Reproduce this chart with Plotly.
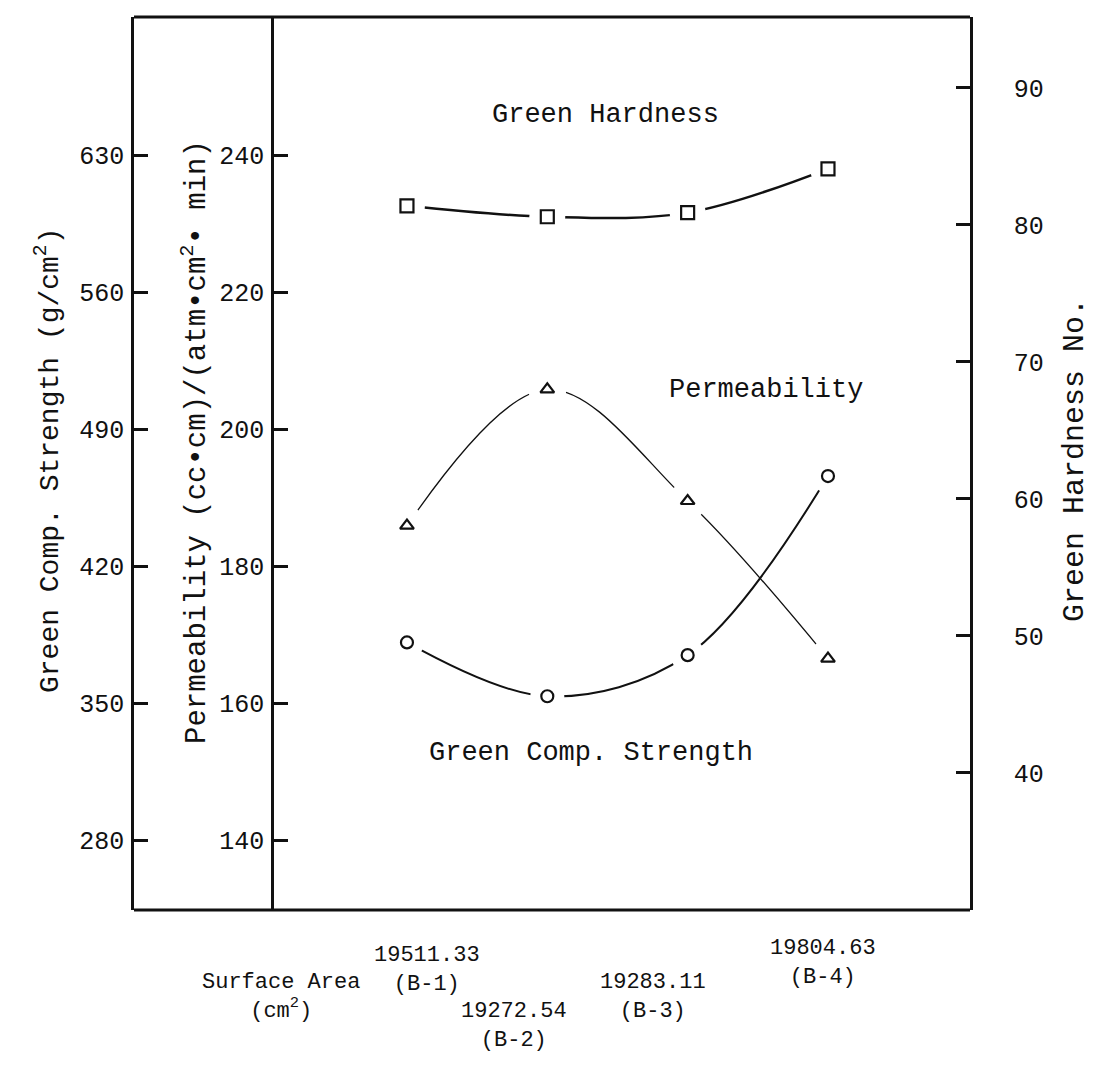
import plotly.graph_objects as go

# ---------------- data ----------------
samples = ["B-1", "B-2", "B-3", "B-4"]
surface_area = ["19511.33", "19272.54", "19283.11", "19804.63"]
x_pos = [1, 2, 3, 4]

green_hardness = [81.4, 80.6, 80.9, 84.1]          # right axis
permeability = [185.9, 205.8, 189.5, 166.5]        # inner left axis
green_comp_strength = [381.0, 353.5, 374.5, 466.0] # outer left axis

strength_ticks = [280, 350, 420, 490, 560, 630]
perm_ticks = [140, 160, 180, 200, 220, 240]
hard_ticks = [40, 50, 60, 70, 80, 90]

FONT = "Liberation Mono"
INK = "#111111"

fig = go.Figure()

def add_series(y, yaxis, symbol, lw, msize, halo):
    fig.add_trace(go.Scatter(x=x_pos, y=y, yaxis=yaxis, mode="lines",
                             line=dict(color=INK, width=lw, shape="spline"),
                             hoverinfo="skip", showlegend=False))
    # white halo to create the small gap between line and marker
    fig.add_trace(go.Scatter(x=x_pos, y=y, yaxis=yaxis, mode="markers",
                             marker=dict(symbol="circle", size=halo, color="white",
                                         line=dict(width=0)),
                             hoverinfo="skip", showlegend=False))
    fig.add_trace(go.Scatter(x=x_pos, y=y, yaxis=yaxis, mode="markers",
                             marker=dict(symbol=symbol, size=msize, color=INK,
                                         line=dict(width=2.2, color=INK)),
                             showlegend=False))

add_series(green_hardness, "y2", "square-open", 2.5, 13, 36)
add_series(permeability, "y3", "triangle-up-open", 1.3, 12, 38)
add_series(green_comp_strength, "y", "circle-open", 2.0, 12, 34)

tickfont = dict(family=FONT, size=25, color=INK)

# plot area: x 134..970 px, y 17..910 px
fig.update_layout(
    width=1106, height=1092,
    margin=dict(l=134, r=136, t=17, b=182),
    paper_bgcolor="white", plot_bgcolor="white",
    showlegend=False,
    xaxis=dict(range=[-0.945, 5.012], showgrid=False, zeroline=False,
               showticklabels=False, ticks="", showline=False),
    yaxis=dict(range=[244.3, 700.5], tickvals=strength_ticks,
               ticktext=[str(v) for v in strength_ticks],
               ticks="inside", ticklen=14, tickwidth=2.5, tickcolor=INK,
               showline=True, linecolor=INK, linewidth=2.5,
               showgrid=False, zeroline=False, tickfont=tickfont,
               ticklabelstandoff=2),
    yaxis3=dict(range=[129.8, 260.15], tickvals=perm_ticks,
                ticktext=[str(v) for v in perm_ticks],
                overlaying="y", anchor="free", position=(272 - 134) / 836, side="left",
                ticks="inside", ticklen=14, tickwidth=2.5, tickcolor=INK,
                showline=True, linecolor=INK, linewidth=2.5,
                showgrid=False, zeroline=False, tickfont=tickfont,
                ticklabelstandoff=2),
    yaxis2=dict(range=[30.0, 95.18], tickvals=hard_ticks,
                ticktext=[str(v) for v in hard_ticks],
                overlaying="y", anchor="x", side="right",
                ticks="inside", ticklen=14, tickwidth=2.5, tickcolor=INK,
                showline=True, linecolor=INK, linewidth=2.5,
                showgrid=False, zeroline=False, tickfont=tickfont,
                ticklabelstandoff=36),
)

# frame (top and bottom borders)
fig.add_shape(type="line", xref="paper", yref="paper", x0=0, x1=1, y0=1, y1=1,
              line=dict(color=INK, width=3))
fig.add_shape(type="line", xref="paper", yref="paper", x0=0, x1=1, y0=0, y1=0,
              line=dict(color=INK, width=3))

ann_font = dict(family=FONT, size=26, color=INK)

def px_ann(text, px, py, size=26, angle=0):
    fig.add_annotation(text=text, textangle=angle, xref="paper", yref="paper",
                       x=(px - 134) / 836, y=(910 - py) / 893, showarrow=False,
                       font=dict(family=FONT, size=size, color=INK),
                       xanchor="center", yanchor="middle")

# axis titles
px_ann("Green Comp. Strength (g/cm<sup>2</sup>)", 48, 461, 28, -90)
px_ann("Permeability (cc\u2022cm)/(atm\u2022cm<sup>2</sup>\u2022 min)", 195, 442, 29, -90)
px_ann("Green Hardness No.", 1075, 460, 30, -90)

# series labels
px_ann("Green Hardness", 605, 115, 27)
px_ann("Permeability", 766, 390, 27)
px_ann("Green Comp. Strength", 591, 753, 27)

# staggered category labels under the axis
label_offsets = [(20, -60), (-33, -116), (-35, -87), (-5, -53)]
xfont = dict(family=FONT, size=22, color=INK)
for xp, area, s, (dx, dy) in zip(x_pos, surface_area, samples, label_offsets):
    fig.add_annotation(text=f"{area}<br>({s})", xref="x", yref="paper", x=xp, y=0,
                       xshift=dx, yshift=dy, showarrow=False, font=xfont,
                       xanchor="center", yanchor="middle")
fig.add_annotation(text="Surface Area<br>(cm<sup>2</sup>)", xref="paper", yref="paper",
                   x=(281 - 134) / 836, y=0, yshift=-87, showarrow=False, font=xfont,
                   xanchor="center", yanchor="middle")

fig.write_html("out.html")
